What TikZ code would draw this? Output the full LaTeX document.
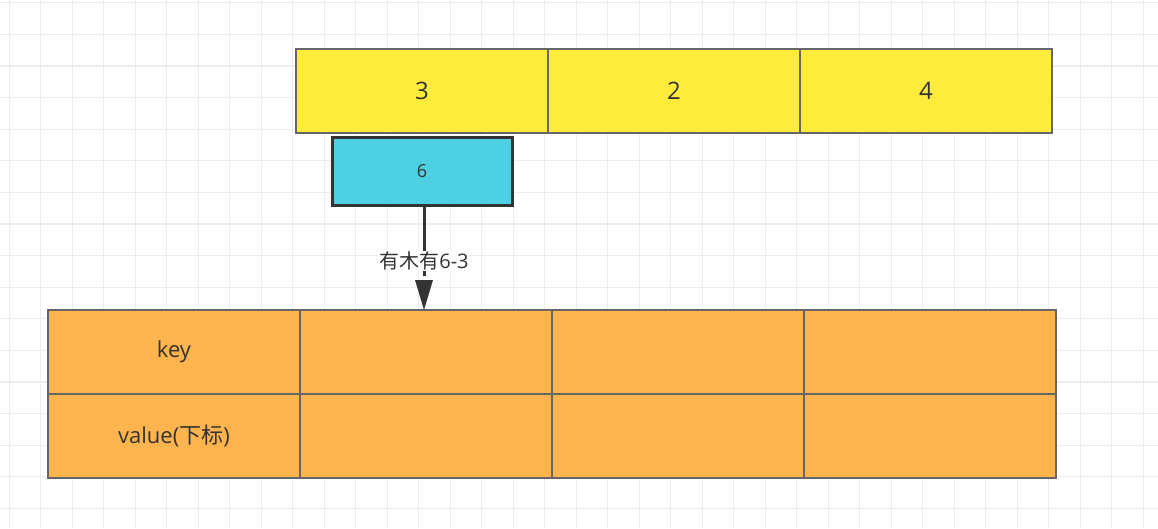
\documentclass[tikz,border=0pt]{standalone}
\usepackage{fontspec}
\setmainfont{Open Sans}
\newfontfamily\cjk{Noto Sans CJK SC}
\begin{document}
\begin{tikzpicture}[x=1pt,y=-1pt,
  ycell/.style={draw=black!60,line width=1.3pt,fill=yellow!85!orange!60,fill={rgb,255:red,255;green,235;blue,59},minimum width=252pt,minimum height=84pt,inner sep=0,font=\fontsize{24}{28}\selectfont,text=black!80},
  ocell/.style={draw=black!60,line width=1.3pt,fill={rgb,255:red,255;green,180;blue,77},minimum width=252pt,minimum height=84pt,inner sep=0,font=\fontsize{22}{26}\selectfont,text=black!80}]
\useasboundingbox (0,0) rectangle (1158,528);
\fill[white] (0,0) rectangle (1158,528);
\foreach \i in {0,...,37} \draw[black!7,line width=1.2pt] (9.3+31.5*\i,0) -- (9.3+31.5*\i,528);
\foreach \j in {0,...,17} \draw[black!7,line width=1.2pt] (0,2.7+31.6*\j) -- (1158,2.7+31.6*\j);
\node[ycell] (y1) at (422,91) {3};
\node[ycell] (y2) at (674,91) {2};
\node[ycell] (y3) at (926,91) {4};
\node[draw=black!80,line width=3pt,fill={rgb,255:red,77;green,208;blue,225},minimum width=180pt,minimum height=68pt,inner sep=0,font=\fontsize{18}{22}\selectfont,text=black!80] (six) at (422,171) {6};
\node[ocell] (k0) at (174,352) {key};
\node[ocell] (k1) at (426,352) {};
\node[ocell] (k2) at (678,352) {};
\node[ocell] (k3) at (930,352) {};
\node[ocell] (v0) at (174,436) {value(\cjk 下标\rm)};
\node[ocell] (v1) at (426,436) {};
\node[ocell] (v2) at (678,436) {};
\node[ocell] (v3) at (930,436) {};
\coordinate (t) at (424,310);
\draw[black!80,line width=3pt] (six.south -| t) -- (424,276);
\fill[black!80] (t) -- (415,280) -- (433,280) -- cycle;
\node[fill=white,inner sep=1pt,font=\fontsize{20}{24}\selectfont,text=black!80] (lab) at (424,261) {\cjk 有木有\rm 6-3};
\end{tikzpicture}
\end{document}
